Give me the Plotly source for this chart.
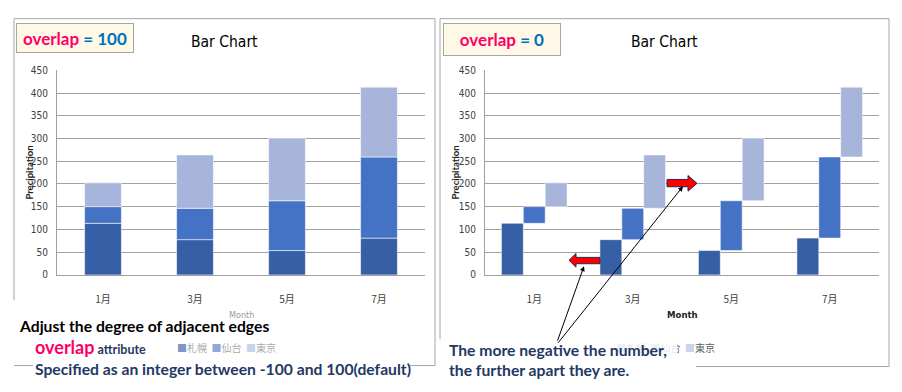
import plotly.graph_objects as go

# ---- data ----
months = ["1月", "3月", "5月", "7月"]
sapporo = [113.6, 77.6, 53.6, 81.0]
sendai = [36.6, 68.9, 109.5, 178.4]
tokyo = [52.3, 117.5, 137.8, 153.5]
series_names = ["札幌", "仙台", "東京"]
y_ticks = [0, 50, 100, 150, 200, 250, 300, 350, 400, 450]

W, H = 902, 392
def px(x):
    return x / W
def py(y):
    return 1 - y / H

colors = ["#365FA5", "#4472C4", "#A7B5DA"]
NARROW = "Liberation Sans Narrow, DejaVu Sans Condensed, Roboto Condensed, Liberation Sans, sans-serif"
CJK = "Noto Sans CJK JP, Noto Sans CJK SC, sans-serif"
LATO = "Lato, Open Sans, sans-serif"
NAVY = "#1F3864"
PINK = "#FF0066"
BLUE = "#0070C0"

base_sendai = list(sapporo)
base_tokyo = [a + b for a, b in zip(sapporo, sendai)]
values = [sapporo, sendai, tokyo]
bases = [[0] * len(months), base_sendai, base_tokyo]

fig = go.Figure()

# left: overlap = 100 (all series at the same position)
for name, vals, b, c in zip(series_names, values, bases, colors):
    fig.add_trace(go.Bar(
        x=months, y=vals, base=b, name=name, width=0.4,
        marker=dict(color=c, line=dict(color="rgba(255,255,255,0.55)", width=1)),
        xaxis="x", yaxis="y", showlegend=False))

# right: overlap = 0 (series side by side)
offsets = [-1 / 3, -1 / 9, 1 / 9]
for name, vals, b, c, off in zip(series_names, values, bases, colors, offsets):
    fig.add_trace(go.Bar(
        x=months, y=vals, base=b, name=name, width=2 / 9, offset=off,
        marker=dict(color=c, line=dict(color="rgba(255,255,255,0.55)", width=1)),
        xaxis="x2", yaxis="y2", showlegend=False))

yd = [py(277), py(67)]
common_x = dict(type="category", showgrid=False, showline=True, linecolor="#A0A0A0",
                linewidth=1, ticks="", ticklabelstandoff=15,
                tickfont=dict(family=CJK, size=10, color="#404040"), fixedrange=True)
common_y = dict(range=[0, 450], tickvals=y_ticks, showgrid=True, gridcolor="#A0A0A0",
                gridwidth=1, showline=True, linecolor="#A0A0A0", linewidth=1,
                ticks="", ticklabelstandoff=6, zeroline=False,
                tickfont=dict(family=NARROW, size=10, color="#404040"), fixedrange=True)

fig.update_layout(
    width=W, height=H, margin=dict(l=0, r=0, t=0, b=0),
    paper_bgcolor="white", plot_bgcolor="white", barmode="overlay",
    xaxis=dict(domain=[px(57), px(425)], anchor="y", **common_x),
    yaxis=dict(domain=yd, anchor="x", **common_y),
    xaxis2=dict(domain=[px(485), px(879)], anchor="y2", **common_x),
    yaxis2=dict(domain=yd, anchor="x2", **common_y),
)

shapes = []
def seg(x0, y0, x1, y1, color="#A6A6A6"):
    shapes.append(dict(type="line", xref="paper", yref="paper",
                       x0=px(x0), y0=py(y0), x1=px(x1), y1=py(y1),
                       line=dict(color=color, width=1), layer="below"))
# left panel border
seg(14, 14, 435, 14)
seg(435, 14, 435, 370)
seg(14, 14, 14, 303)
seg(14, 370, 33, 370)
seg(410, 370, 435, 370)
# right panel border
seg(440, 14, 889, 14)
seg(889, 14, 889, 371)
seg(440, 14, 440, 343)
seg(696, 371, 889, 371)

def poly(pts):
    d = "M " + " L ".join(f"{px(x):.5f},{py(y):.5f}" for x, y in pts) + " Z"
    return dict(type="path", xref="paper", yref="paper", path=d,
                fillcolor="#FF0000", line=dict(color="#1F2D5A", width=1), layer="above")
# left-pointing red block arrow
shapes.append(poly([(569, 262), (576, 255), (576, 259), (600, 259), (600, 265.5),
                    (576, 265.5), (576, 269)]))
# right-pointing red block arrow
shapes.append(poly([(697, 183), (688, 175), (688, 179), (667, 179), (667, 186.5),
                    (688, 186.5), (688, 191)]))
fig.update_layout(shapes=shapes)

ann = []
def text(x, y, t, size, color, family=LATO, xanchor="left", yanchor="middle", angle=0, **kw):
    ann.append(dict(xref="paper", yref="paper", x=px(x), y=py(y), text=t, showarrow=False,
                    xanchor=xanchor, yanchor=yanchor, textangle=angle,
                    font=dict(family=family, size=size, color=color), **kw))

# titles
text(224, 38, "Bar Chart", 15.5, "#000000", family=NARROW, xanchor="center")
text(664, 38, "Bar Chart", 15.5, "#000000", family=NARROW, xanchor="center")
# axis titles
text(30, 172, "<b>Precipitation</b>", 9.5, "#222222", xanchor="center", angle=-90)
text(456, 172, "<b>Precipitation</b>", 9.5, "#222222", xanchor="center", angle=-90)
text(241, 318, "Month", 9, "#9A9A9A", family=NARROW, xanchor="center")
text(682, 318, "<b>Month</b>", 9.5, "#222222", family=NARROW, xanchor="center")

# legends
def legend_text():
    parts = []
    for n, c in zip(series_names, ["#7F95C8", "#8FA8DA", "#C9D3EC"]):
        parts.append(f'<span style="color:{c}">■</span>{n}')
    return "  ".join(parts)
text(226, 351, legend_text(), 10, "#ABABAB", family=CJK, xanchor="center")
text(665, 351, legend_text(), 10, "#606060", family=CJK, xanchor="center")

# overlap boxes
ann.append(dict(xref="paper", yref="paper", x=px(16), y=py(18), xanchor="left", yanchor="top",
                width=116, height=28, borderpad=0, borderwidth=1, bordercolor="#A6A6A6",
                bgcolor="#FFF8E6", showarrow=False, align="center",
                text=f'<b><span style="color:{PINK}">overlap</span> = 100</b>',
                font=dict(family=LATO, size=17, color=BLUE)))
ann.append(dict(xref="paper", yref="paper", x=px(443), y=py(18), xanchor="left", yanchor="top",
                width=116, height=31, borderpad=0, borderwidth=1, bordercolor="#A6A6A6",
                bgcolor="#FFF8E6", showarrow=False, align="center",
                text=f'<b><span style="color:{PINK}">overlap</span> = 0</b>',
                font=dict(family=LATO, size=17, color=BLUE)))

# left notes
text(17, 329, "<b>Adjust the degree of adjacent edges</b>", 15.7, "#000000")
text(33, 351, f'<b><span style="color:{PINK};font-size:18px">overlap</span> '
              f'<span style="font-size:12.5px">attribute</span></b>', 12.5, NAVY)
text(33, 374, "<b>Specified as an integer between -100 and 100(default)</b>", 15.7, NAVY)

# right note with white box
ann.append(dict(xref="paper", yref="paper", x=px(448), y=py(341), xanchor="left", yanchor="top",
                width=228, height=44, borderpad=0, bgcolor="rgba(255,255,255,0.85)",
                showarrow=False, align="left", valign="middle",
                text="<b>The more negative the number,<br>the further apart they are.</b>",
                font=dict(family=LATO, size=15.7, color=NAVY)))

# thin black pointer arrows
for tx, ty in [(584, 268), (683, 186)]:
    ann.append(dict(xref="paper", yref="paper", x=px(tx), y=py(ty), text="",
                    showarrow=True, ax=557 - tx, ay=344 - ty, arrowhead=2, arrowsize=1,
                    arrowwidth=1, arrowcolor="#000000", standoff=0))

fig.update_layout(annotations=ann)
fig.write_html("out.html", config={"displayModeBar": False, "staticPlot": True})

# remove the default page margin so the figure sits at the window's top-left corner
with open("out.html", encoding="utf-8") as f:
    html = f.read()
html = html.replace("<body>", '<body style="margin:0;padding:0;">', 1)
with open("out.html", "w", encoding="utf-8") as f:
    f.write(html)
